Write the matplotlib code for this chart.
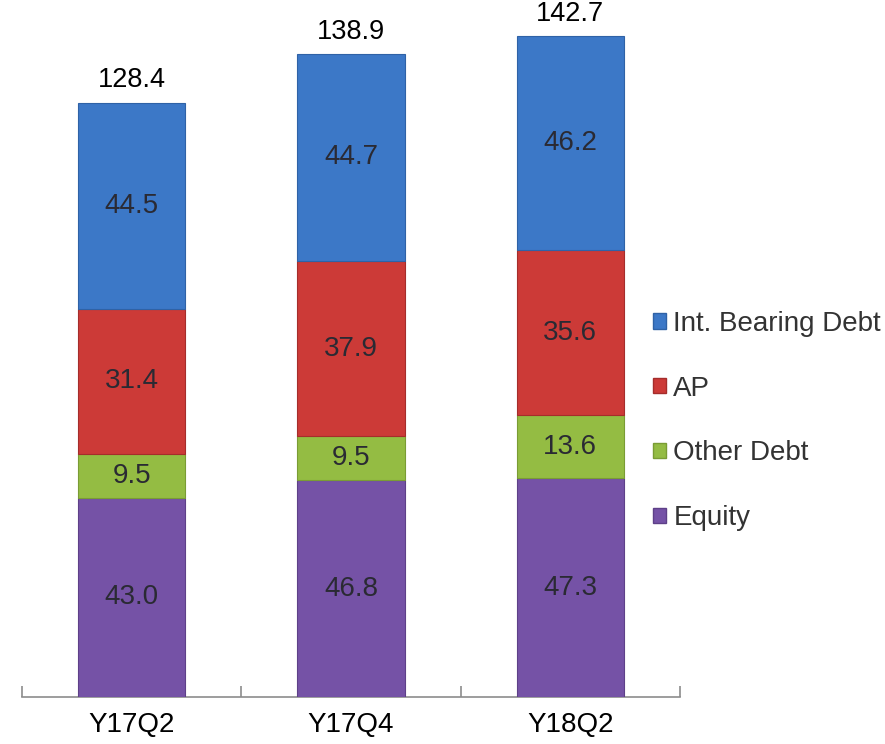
import matplotlib.pyplot as plt
import matplotlib.patches as mpatches
import numpy as np

plt.rcParams["font.family"] = ["Liberation Sans", "DejaVu Sans"]

# ── Data ──────────────────────────────────────────────────────────────────────
categories = ["Y17Q2", "Y17Q4", "Y18Q2"]
equity     = [43.0, 46.8, 47.3]
other_debt = [9.5, 9.5, 13.6]
ap         = [31.4, 37.9, 35.6]
int_debt   = [44.5, 44.7, 46.2]
totals     = [128.4, 138.9, 142.7]

series = [
    ("Equity",            equity,     "#7552a6", "#5e4088"),
    ("Other Debt",        other_debt, "#94bc43", "#7a9c34"),
    ("AP",                ap,         "#cc3a37", "#a52d2b"),
    ("Int. Bearing Debt", int_debt,   "#3c78c7", "#2f62a6"),
]

# ── Figure ────────────────────────────────────────────────────────────────────
W, H = 885, 744
fig = plt.figure(figsize=(W / 100, H / 100), dpi=100)
ax = fig.add_axes([22 / W, (H - 697) / H, 658 / W, 694.5 / H])

x = np.arange(len(categories))
bottom = np.zeros(len(categories))
handles = []
for name, vals, col, edge in series:
    vals = np.array(vals)
    ax.bar(x, vals, width=0.49, bottom=bottom, color=col,
           edgecolor=edge, linewidth=0.8, zorder=3)
    for xi, b, v in zip(x, bottom, vals):
        ax.text(xi, b + v / 2, f"{v:.1f}", ha="center", va="center",
                fontsize=20, color="#2a2a33", zorder=4)
    bottom += vals
    handles.append(mpatches.Patch(facecolor=col, edgecolor=edge, label=name))

for xi, t in zip(x, totals):
    ax.text(xi, t + 2.0, f"{t:.1f}", ha="center", va="bottom",
            fontsize=19.5, color="black")

ax.set_xlim(-0.5, len(categories) - 0.5)
ax.set_ylim(0, 150)
ax.set_xticks(x)
ax.set_xticklabels(categories, fontsize=20)
ax.set_xticks(np.arange(-0.5, len(categories)), minor=True)
ax.tick_params(axis="x", which="major", length=0, pad=11)
ax.tick_params(axis="x", which="minor", length=8, direction="in",
               color="#8c8c8c", width=1.2)
ax.set_yticks([])
for s in ["top", "right", "left"]:
    ax.spines[s].set_visible(False)
ax.spines["bottom"].set_color("#8c8c8c")
ax.spines["bottom"].set_linewidth(1.2)

leg = fig.legend(handles=handles[::-1], loc="center left",
                 bbox_to_anchor=(628 / W, 1 - 421 / H), frameon=False,
                 fontsize=20, handlelength=0.48, handleheight=0.48,
                 handletextpad=0.25, labelspacing=1.4)
for t in leg.get_texts():
    t.set_color("#333333")

fig.savefig("out.png", dpi=100)
